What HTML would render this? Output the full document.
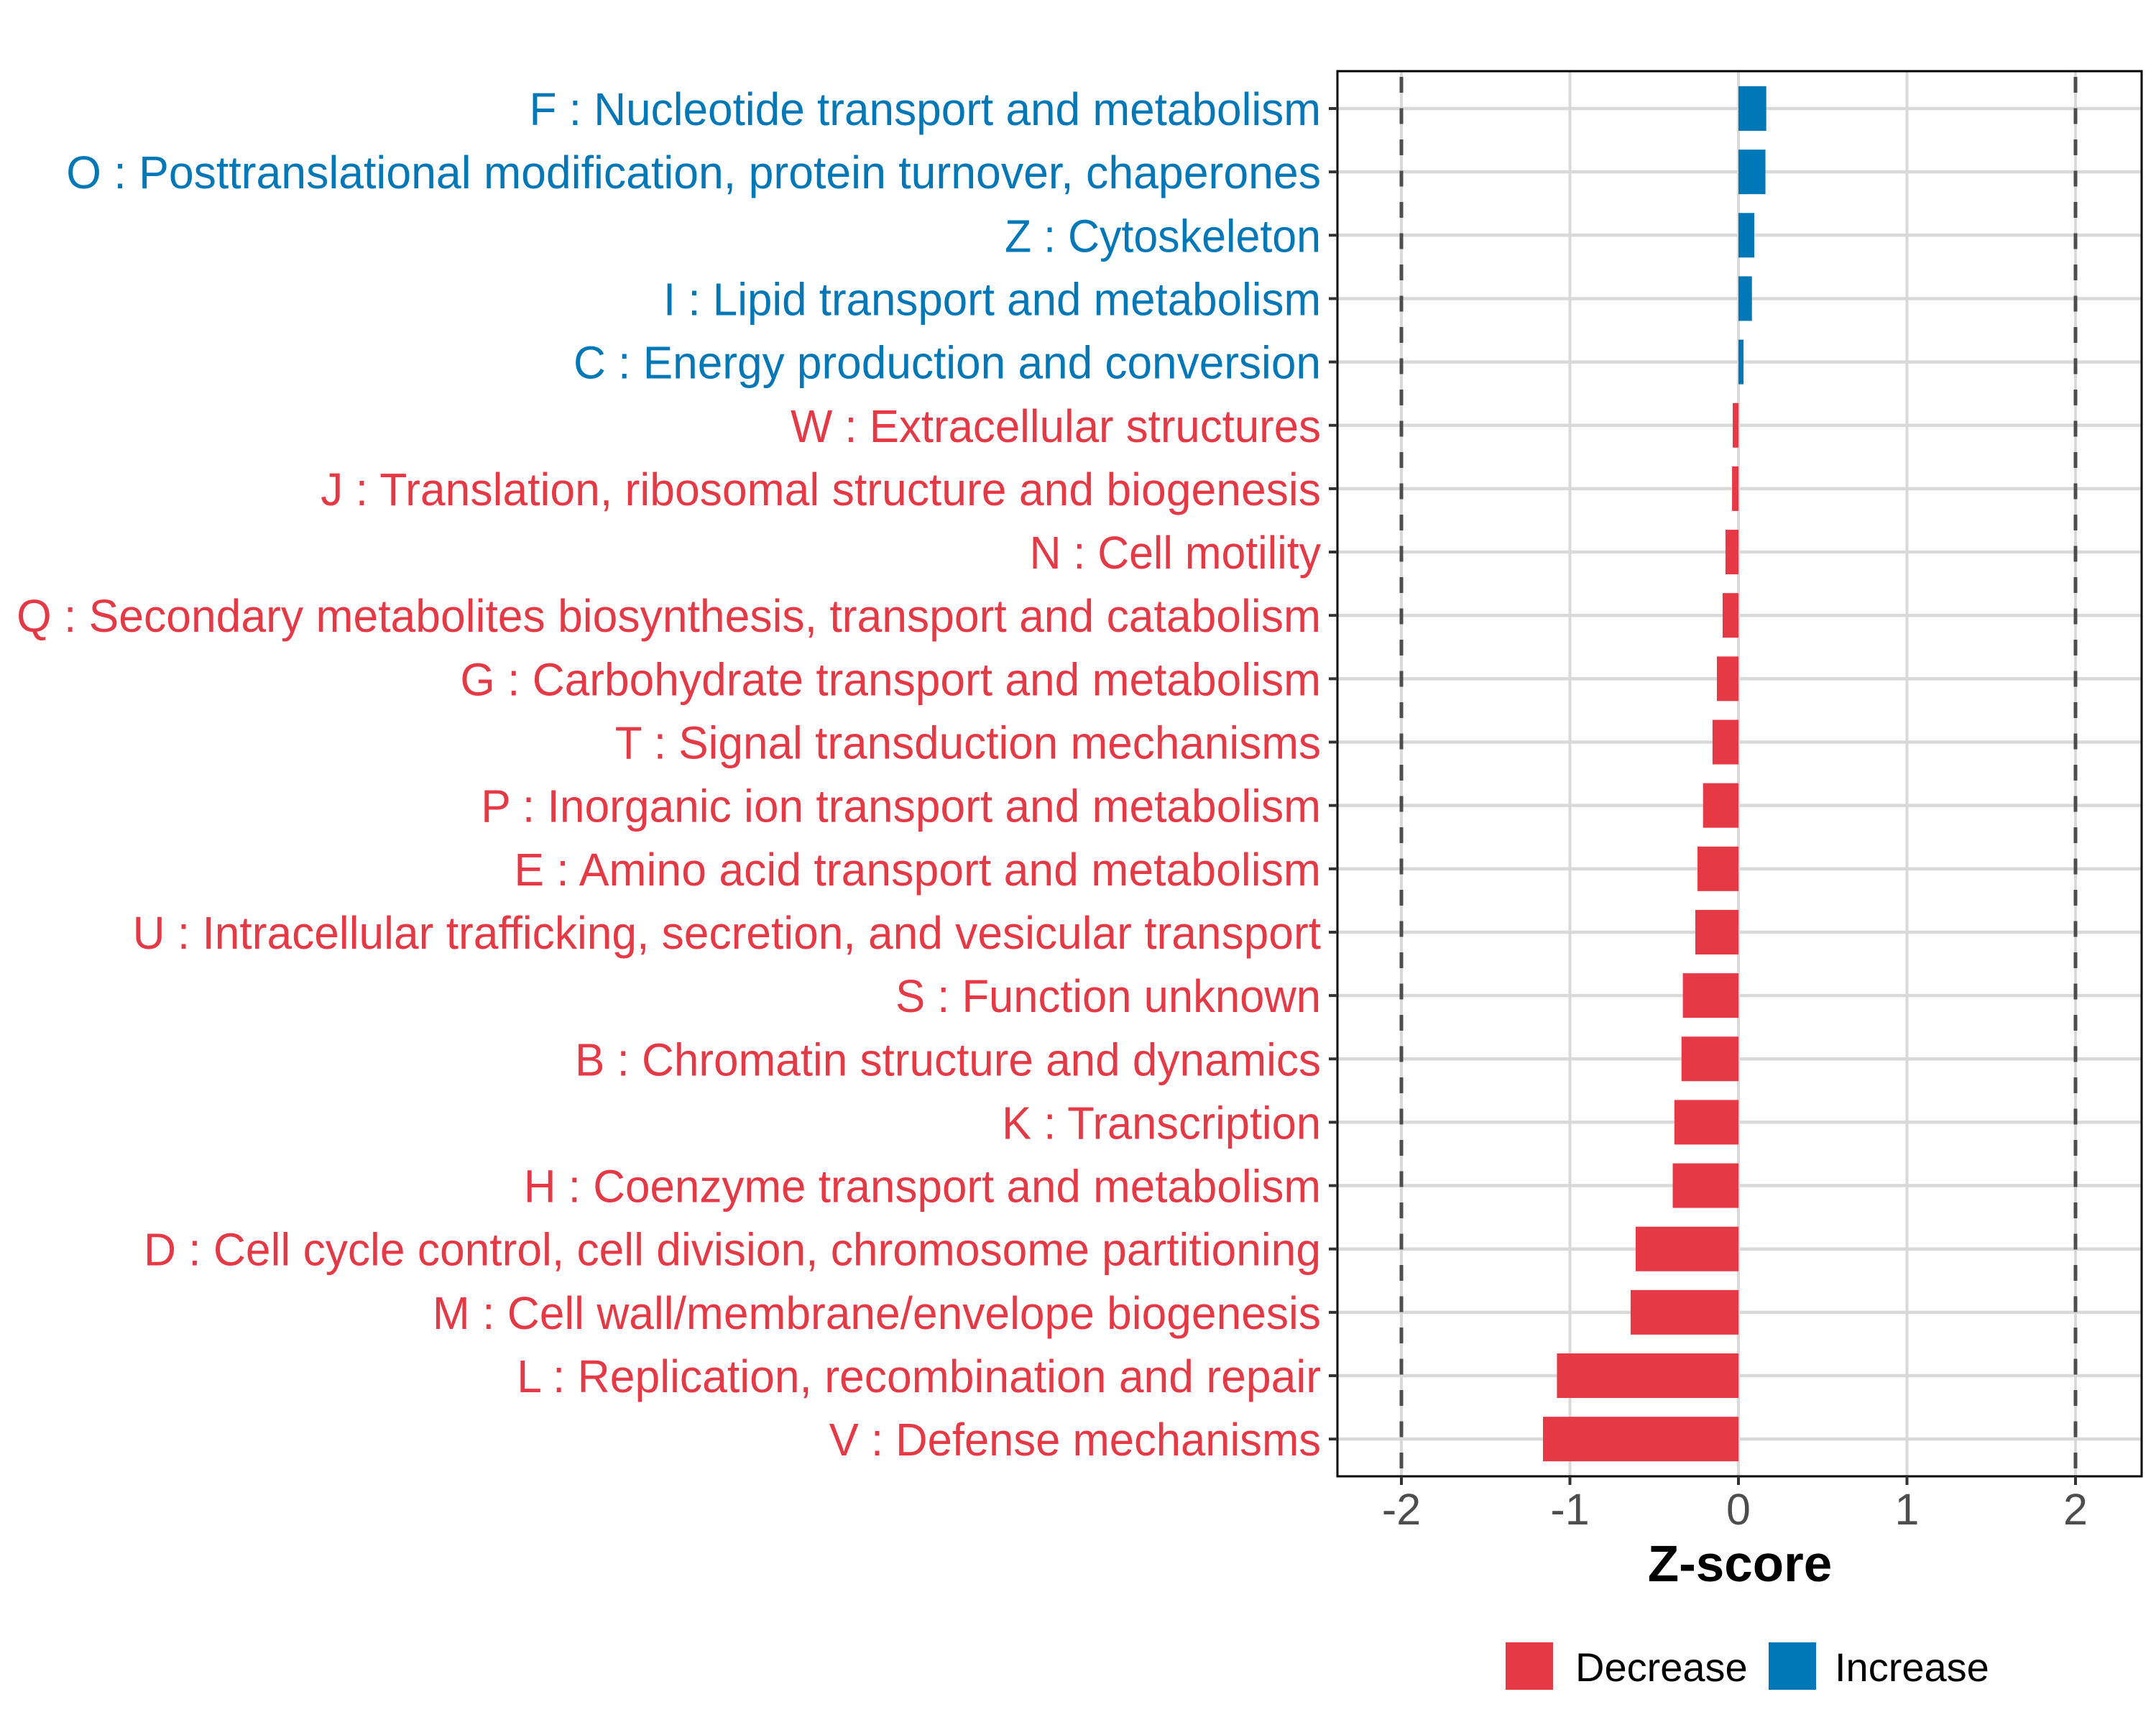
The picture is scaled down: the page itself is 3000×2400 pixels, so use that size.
<!DOCTYPE html>
<html><head><meta charset="utf-8"><style>
html,body{margin:0;padding:0;background:#fff;}
svg{display:block;}
</style></head>
<body>
<svg id="chart" xmlns="http://www.w3.org/2000/svg" width="3000" height="2400" viewBox="0 0 3000 2400" font-family="'Liberation Sans', sans-serif">
<rect x="0" y="0" width="3000" height="2400" fill="#fff"/>
<g id="grid"></g>
<g id="refs"></g>
<g id="bars"></g>
<rect x="1861" y="99" width="1119" height="1955" fill="none" stroke="#000" stroke-width="3"/>
<g id="ylabels"></g>
<g id="xaxis"></g>
<text x="2421" y="2200" text-anchor="middle" font-size="71" font-weight="bold" fill="#000">Z-score</text>
<g>
  <rect x="2095" y="2285" width="66" height="66" fill="#E63946"/>
  <text x="2192" y="2339" font-size="56" fill="#000">Decrease</text>
  <rect x="2461" y="2285" width="66" height="66" fill="#0077B6"/>
  <text x="2553" y="2339" font-size="56" fill="#000">Increase</text>
</g>
</svg>
<script>
const categories = ["F : Nucleotide transport and metabolism","O : Posttranslational modification, protein turnover, chaperones","Z : Cytoskeleton","I : Lipid transport and metabolism","C : Energy production and conversion","W : Extracellular structures","J : Translation, ribosomal structure and biogenesis","N : Cell motility","Q : Secondary metabolites biosynthesis, transport and catabolism","G : Carbohydrate transport and metabolism","T : Signal transduction mechanisms","P : Inorganic ion transport and metabolism","E : Amino acid transport and metabolism","U : Intracellular trafficking, secretion, and vesicular transport","S : Function unknown","B : Chromatin structure and dynamics","K : Transcription","H : Coenzyme transport and metabolism","D : Cell cycle control, cell division, chromosome partitioning","M : Cell wall/membrane/envelope biogenesis","L : Replication, recombination and repair","V : Defense mechanisms"];
const zscores = [0.165,0.16,0.094,0.08,0.03,-0.034,-0.038,-0.077,-0.094,-0.128,-0.154,-0.21,-0.243,-0.256,-0.33,-0.338,-0.38,-0.39,-0.61,-0.64,-1.077,-1.16];
const labelStarts = [383,48,727,480,415,572,232,745,12,333,445,348,372,96,648,416,725,379,104,313,374,600];
const xTicks = [-2,-1,0,1,2];
const xTickLabels = ["-2","-1","0","1","2"];
const thresholds = [-2,2];

const NS = "http://www.w3.org/2000/svg";
const PL = 1861, PR = 2980, PT = 99, PB = 2054;
function xScale(v){ return 2419 + v*234.5; }
function yScale(i){ return 151 + i*88.15; }
function mk(tag, attrs, parent){ const e=document.createElementNS(NS,tag); for(const k in attrs) e.setAttribute(k,attrs[k]); parent.appendChild(e); return e; }

const grid=document.getElementById('grid');
xTicks.forEach(t=>{
  const l=mk('line',{x1:xScale(t),x2:xScale(t),y1:PT,y2:PB,stroke:'#d9d9d9','stroke-width':4},grid);
  
  
});
categories.forEach((c,i)=>{
  const l=mk('line',{x1:PL,x2:PR,y1:yScale(i),y2:yScale(i),stroke:'#d9d9d9','stroke-width':4.5},grid);
  
  
});
const refs=document.getElementById('refs');
thresholds.forEach(t=>{
  const l=mk('line',{x1:xScale(t),x2:xScale(t),y1:PT,y2:PB,stroke:'#4d4d4d','stroke-width':5,'stroke-dasharray':'22 21.5','stroke-dashoffset':'-8'},refs);
  
  
});
const bars=document.getElementById('bars');
const ylab=document.getElementById('ylabels');
categories.forEach((c,i)=>{
  const v=zscores[i];
  const x0=xScale(0), x1=xScale(v);
  const col = v>=0 ? '#0077B6' : '#E63946';
  const r=mk('rect',{x:Math.min(x0,x1),y:yScale(i)-31,width:Math.abs(x1-x0),height:62,fill:col},bars);
  
  
  const sx=labelStarts[i]*1.923;
  const t=mk('text',{x:sx,y:yScale(i)+23,'font-size':64,fill:col,textLength:(1838-sx),lengthAdjust:'spacingAndGlyphs'},ylab);
  t.textContent=c;
  
  
  const tk=mk('line',{x1:1849,x2:PL,y1:yScale(i),y2:yScale(i),stroke:'#333','stroke-width':4},ylab);
  
  
});
const xa=document.getElementById('xaxis');
xTicks.forEach((t,i)=>{
  const tk=mk('line',{x1:xScale(t),x2:xScale(t),y1:PB,y2:PB+12,stroke:'#333','stroke-width':4},xa);
  
  
  const tl=mk('text',{x:xScale(t),y:2121,'text-anchor':'middle','font-size':61,fill:'#4d4d4d'},xa);
  tl.textContent=xTickLabels[i];
  
  
});
</script>
</body></html>
